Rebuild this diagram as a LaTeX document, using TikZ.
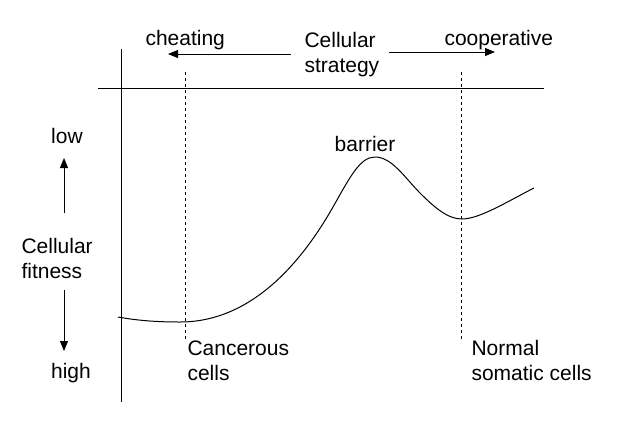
\documentclass[tikz,border=0pt]{standalone}
\usepackage{fontspec}
\setmainfont{Liberation Sans}
\usetikzlibrary{arrows.meta}

\begin{document}
\begin{tikzpicture}[x=1pt,y=-1pt,line width=1pt,every node/.style={inner sep=0pt,font=\fontsize{21}{25}\selectfont},lbl/.style={align=left},guide/.style={dash pattern=on 3pt off 3pt,line width=0.8pt},pointer/.style={-{Triangle[length=10pt,width=8pt]}}]
	\useasboundingbox (0,0) rectangle (637,429);
	
	% axes
	\coordinate (ytop) at (121,49);
	\coordinate (ybot) at (121,402);
	\coordinate (xl) at (98,88);
	\coordinate (xr) at (544,88);
	\draw (ytop) -- (ybot);
	\draw (xl) -- (xr);
	
	% strategy labels
	\node[lbl,anchor=west] (strategy) at (304,55) {Cellular\\strategy};
	\node[anchor=base west] (cheat) at (145,45) {cheating};
	\node[anchor=base west] (coop) at (444,45) {cooperative};
	\coordinate (chtip) at (168,54);
	\coordinate (cotip) at (495,52);
	\draw[pointer] (strategy.west) ++(-13,-1) coordinate (chstart) -- (chtip);
	\draw[pointer] (389,52) coordinate (costart) -- (cotip);
	
	% fitness labels
	\node[anchor=base] (low) at (67,143) {low};
	\node[anchor=base] (high) at (71,378) {high};
	\node[lbl,anchor=west] (fitness) at (21,258) {Cellular\\fitness};
	\draw[pointer] (64,213) coordinate (upstart) -- (64,158) coordinate (uptip);
	\draw[pointer] (64,290) coordinate (dnstart) -- (64,351) coordinate (dntip);
	
	% landscape
	\coordinate (cancermin) at (180,322);
	\coordinate (peak) at (375,157);
	\coordinate (normalmin) at (462,219);
	\draw (118,317) .. controls (140,321) and (160,322) .. (cancermin)
		.. controls (250,322) and (300,265) .. (333,207)
		.. controls (350,177) and (360,157) .. (peak)
		.. controls (392,157) and (405,178) .. (420,193)
		.. controls (435,208) and (448,219) .. (normalmin)
		.. controls (480,219) and (510,200) .. (534,188);
	\node[anchor=base] (barrier) at (365,151) {barrier};
	
	% states
	\coordinate (cantop) at (185,72);
	\coordinate (canbot) at (185,340);
	\coordinate (nortop) at (461,72);
	\coordinate (norbot) at (461,340);
	\draw[guide] (cantop) -- (canbot);
	\draw[guide] (nortop) -- (norbot);
	\node[lbl,anchor=north west] (cancer) at (187,340) {Cancerous\\cells};
	\node[lbl,anchor=north west] (normal) at (471,340) {Normal\\somatic cells};
\end{tikzpicture}
\end{document}
